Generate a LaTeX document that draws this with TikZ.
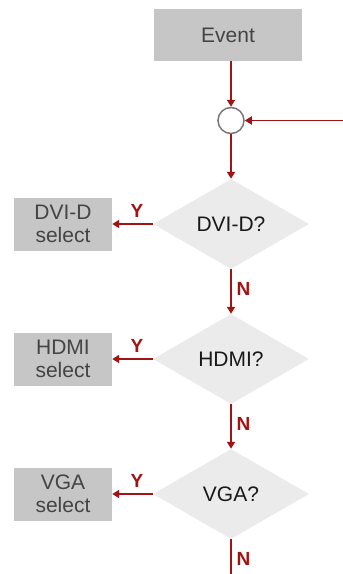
\documentclass[tikz,border=0pt]{standalone}
\usepackage{fontspec}
\setmainfont{Liberation Sans}
\usetikzlibrary{arrows.meta,shapes.geometric}
\definecolor{rouge}{HTML}{A01414}
\definecolor{boite}{HTML}{C6C6C6}
\definecolor{losange}{HTML}{EBEBEB}
\definecolor{texte}{HTML}{444444}
\definecolor{cercle}{HTML}{777777}

\begin{document}
\begin{tikzpicture}[x=1pt,y=-1pt,
  box/.style={fill=boite,text=texte,minimum width=98pt,minimum height=53pt,align=center,inner sep=0pt,font=\fontsize{21}{23}\selectfont},
  test/.style={diamond,fill=losange,minimum width=156pt,minimum height=90pt,aspect=1.73,inner sep=0pt,text=black!90,font=\fontsize{21}{23}\selectfont},
  arr/.style={rouge,line width=1.8pt,-{Triangle[length=7pt,width=8pt]}},
  lab/.style={rouge,font=\fontsize{19}{19}\selectfont\bfseries}]
  \useasboundingbox (0,0) rectangle (343,574);
  \node[box,minimum width=148pt,minimum height=52pt] (event) at (228,35) {Event};
  \node[circle,draw=cercle,line width=1.5pt,fill=white,minimum size=26pt,inner sep=0pt] (merge) at (231,120.5) {};
  \coordinate (loop) at (343,120.5);
  \coordinate (exit) at (231,574);
  \draw[arr] (event.south -| merge) -- (merge);
  \draw[arr] (loop) -- (merge);
  \foreach \i/\name/\y in {1/DVI-D/224,2/HDMI/359,3/VGA/494} {
    \node[test] (q\i) at (231,\y) {\name?};
    \node[box] (s\i) at (63,\y) {\name\\select};
    \draw[arr] (q\i) -- (s\i);
    \node[lab] (y\i) at (137,\y-13) {Y};
    \node[lab] (n\i) at (243.5,\y+65) {N};
  }
  \draw[arr] (merge) -- (q1);
  \draw[arr] (q1) -- (q2);
  \draw[arr] (q2) -- (q3);
  \draw[rouge,line width=1.8pt] (q3) -- (exit);
\end{tikzpicture}
\end{document}
